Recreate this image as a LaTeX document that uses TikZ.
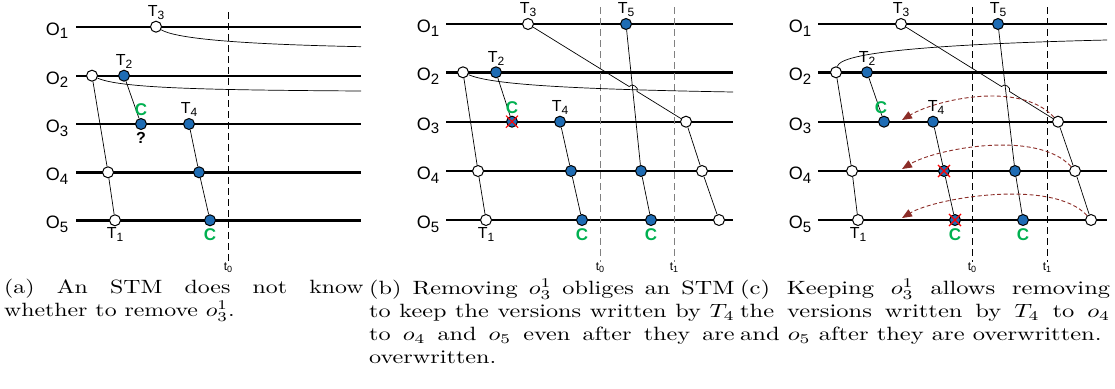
\documentclass[tikz,border=0pt]{standalone}
\usepackage{fontspec}
\usepackage{amsmath}
\setsansfont{Liberation Sans}
\usetikzlibrary{arrows.meta,positioning,calc,shapes.misc}

\definecolor{verblue}{RGB}{30,108,180}
\definecolor{commitgreen}{RGB}{0,176,80}
\definecolor{gcred}{RGB}{140,45,40}

\newcommand{\objname}[1]{{\fontsize{18}{18}\selectfont O\raisebox{-3.5pt}{\fontsize{15}{15}\selectfont #1}}}
\newcommand{\txname}[1]{{\fontsize{16}{16}\selectfont T\raisebox{-3pt}{\fontsize{12}{12}\selectfont #1}}}
\newcommand{\tname}[1]{{\fontsize{12}{12}\selectfont t\raisebox{-2pt}{\fontsize{9}{9}\selectfont #1}}}
\newcommand{\subfigtext}[2][2.42]{\scalebox{#1}[1.92]{\parbox[t]{151pt}{\rmfamily\hyphenpenalty=10000 #2}}}

\begin{document}
\begin{tikzpicture}[
    x=1pt, y=-1pt,
    objline/.style={line width=2.4pt},
    link/.style={line width=0.7pt},
    wver/.style={draw, circle, fill=white, line width=1pt, inner sep=0pt, minimum size=11pt},
    bver/.style={wver, fill=verblue},
    tline/.style={dash pattern=on 7pt off 4pt, line width=0.8pt},
    lbl/.style={font=\sffamily, inner sep=1pt},
    commit/.style={font=\sffamily\bfseries\fontsize{17}{17}\selectfont, text=commitgreen, inner sep=1pt},
    killed/.style={draw=red, cross out, line width=1.1pt, minimum size=11pt, inner sep=0pt},
    gc/.style={dash pattern=on 4pt off 2.5pt, draw=gcred, line width=0.9pt, -{Triangle[length=10pt, width=8pt]}},
    caption/.style={anchor=north west, inner sep=0pt}
]
\useasboundingbox (0,0) rectangle (1115,388);

% (a)
\foreach \i/\y in {1/26.7, 2/75.7, 3/124, 4/172.3, 5/220.3} {
    \coordinate (a\i-l) at (76,\y);
    \coordinate (a\i-r) at (361,\y);
    \draw[objline] (a\i-l) -- (a\i-r);
    \node[lbl, anchor=base] (a\i-name) at (57,\y+8.5) {\objname{\i}};
}
\coordinate (a-t0top) at (228,12);
\node[lbl] (a-t0) at (228,268) {\tname{0}};
\draw[tline] (a-t0top) -- (a-t0);

\node[wver] (a1w) at (156,26.7) {};
\node[wver] (a2w) at (92,75.7) {};
\node[bver] (a2b) at (124,75.7) {};
\node[bver] (a3b) at (141,124) {};
\node[bver] (a3c) at (189,124) {};
\node[wver] (a4w) at (108,172.3) {};
\node[bver] (a4b) at (199,172.3) {};
\node[wver] (a5w) at (115,220.3) {};
\node[bver] (a5b) at (210,220.3) {};

\draw[link] (a2w) -- (a4w) -- (a5w);
\draw[link] (a2b) -- (a3b);
\draw[link] (a3c) -- (a4b) -- (a5b);
\coordinate (a1-end) at (361,46.7);
\coordinate (a2-end) at (361,91);
\draw[link] (a1w) .. controls (175,38) and (230,44) .. (a1-end);
\draw[link] (a2w) .. controls (120,88) and (200,90) .. (a2-end);

\node[lbl, above=0pt of a1w] (a-T3) {\txname{3}};
\node[lbl, above=0pt of a2b] (a-T2) {\txname{2}};
\node[commit, above=1pt of a3b] (a-c3) {C};
\node[lbl, below=1pt of a3b, font=\sffamily\bfseries\fontsize{16}{16}\selectfont] (a-q) {?};
\node[lbl, above=0pt of a3c] (a-T4) {\txname{4}};
\node[lbl, below=0pt of a5w] (a-T1) {\txname{1}};
\node[commit, below=1pt of a5b] (a-c5) {C};

% (b)
\foreach \i/\y in {1/24, 2/72.3, 3/121.7, 4/171, 5/220} {
    \coordinate (b\i-l) at (446,\y);
    \coordinate (b\i-r) at (733,\y);
    \draw[objline] (b\i-l) -- (b\i-r);
    \node[lbl, anchor=base] (b\i-name) at (428,\y+8.5) {\objname{\i}};
}
\coordinate (b-t0top) at (600,7);
\coordinate (b-t1top) at (674,7);
\node[lbl] (b-t0) at (600,268) {\tname{0}};
\node[lbl] (b-t1) at (674,268) {\tname{1}};
\draw[tline, gray] (b-t0top) -- (b-t0);
\draw[tline, gray] (b-t1top) -- (b-t1);

\node[wver] (b1w) at (528,24) {};
\node[bver] (b1b) at (626,24) {};
\node[wver] (b2w) at (463,72.3) {};
\node[bver] (b2b) at (496,72.3) {};
\node[bver] (b3b) at (512,121.7) {};
\node[bver] (b3c) at (560,121.7) {};
\node[wver] (b3w) at (686,121.7) {};
\node[wver] (b4w) at (478,171) {};
\node[bver] (b4b) at (571,171) {};
\node[bver] (b4c) at (641,171) {};
\node[wver] (b4x) at (702,171) {};
\node[wver] (b5w) at (486,220) {};
\node[bver] (b5b) at (582,220) {};
\node[bver] (b5c) at (651,220) {};
\node[wver] (b5x) at (719,220) {};
\node[killed] (b3kill) at (b3b) {};

\draw[link] (b2w) -- (b4w) -- (b5w);
\draw[link] (b2b) -- (b3b);
\draw[link] (b3c) -- (b4b) -- (b5b);
\draw[link] (b1b) -- (b4c) -- (b5c);
\draw[link] (b3w) -- (b4x) -- (b5x);
\coordinate (b2-end) at (733,92);
\draw[link] (b2w) .. controls (490,84) and (560,89) .. (b2-end);
\draw[link] (b1w) -- ($(b1w)!0.64!(b3w)$) to[bend left=90, looseness=1.3] ($(b1w)!0.69!(b3w)$) -- (b3w);

\node[lbl, above=0pt of b1w] (b-T3) {\txname{3}};
\node[lbl, above=0pt of b1b] (b-T5) {\txname{5}};
\node[lbl, above=0pt of b2b] (b-T2) {\txname{2}};
\node[commit, above=1pt of b3b] (b-c3) {C};
\node[lbl, above=0pt of b3c] (b-T4) {\txname{4}};
\node[lbl, below=0pt of b5w] (b-T1) {\txname{1}};
\node[commit, below=1pt of b5b] (b-c5) {C};
\node[commit, below=1pt of b5c] (b-c5b) {C};

% (c)
\foreach \i/\y in {1/24, 2/72.3, 3/121.7, 4/171, 5/220} {
    \coordinate (c\i-l) at (818,\y);
    \coordinate (c\i-r) at (1107,\y);
    \draw[objline] (c\i-l) -- (c\i-r);
    \node[lbl, anchor=base] (c\i-name) at (800,\y+8.5) {\objname{\i}};
}
\coordinate (c-t0top) at (972,7);
\coordinate (c-t1top) at (1047,7);
\node[lbl] (c-t0) at (972,268) {\tname{0}};
\node[lbl] (c-t1) at (1047,268) {\tname{1}};
\draw[tline] (c-t0top) -- (c-t0);
\draw[tline] (c-t1top) -- (c-t1);

\node[wver] (c1w) at (901,24) {};
\node[bver] (c1b) at (998,24) {};
\node[wver] (c2w) at (836,72.3) {};
\node[bver] (c2b) at (867,72.3) {};
\node[bver] (c3b) at (884,121.7) {};
\node[bver] (c3c) at (933,121.7) {};
\node[wver] (c3w) at (1058,121.7) {};
\node[wver] (c4w) at (852,171) {};
\node[bver] (c4b) at (944,171) {};
\node[bver] (c4c) at (1015,171) {};
\node[wver] (c4x) at (1075,171) {};
\node[wver] (c5w) at (858,220) {};
\node[bver] (c5b) at (955,220) {};
\node[bver] (c5c) at (1023,220) {};
\node[wver] (c5x) at (1091,220) {};
\node[killed] (c4kill) at (c4b) {};
\node[killed] (c5kill) at (c5b) {};

\draw[link] (c2w) -- (c4w) -- (c5w);
\draw[link] (c2b) -- (c3b);
\draw[link] (c3c) -- (c4b) -- (c5b);
\draw[link] (c1b) -- (c4c) -- (c5c);
\draw[link] (c3w) -- (c4x) -- (c5x);
\coordinate (c2-end) at (1107,40);
\draw[link] (c2w) .. controls (840,55) and (900,45) .. (c2-end);
\draw[link] (c1w) -- ($(c1w)!0.64!(c3w)$) to[bend left=90, looseness=1.3] ($(c1w)!0.69!(c3w)$) -- (c3w);

\coordinate (c3-tip) at (902,120);
\coordinate (c4-tip) at (902,169);
\coordinate (c5-tip) at (902,218);
\draw[gc] (c3w) .. controls (1020,80) and (935,100) .. (c3-tip);
\draw[gc] (c4x) .. controls (1037,129) and (935,149) .. (c4-tip);
\draw[gc] (c5x) .. controls (1053,178) and (935,198) .. (c5-tip);

\node[lbl, above=0pt of c1w] (c-T3) {\txname{3}};
\node[lbl, above=0pt of c1b] (c-T5) {\txname{5}};
\node[lbl, above=0pt of c2b] (c-T2) {\txname{2}};
\node[commit, above=1pt of c3b, xshift=-3pt] (c-c3) {C};
\node[lbl, above=0pt of c3c, xshift=3pt] (c-T4) {\txname{4}};
\node[lbl, below=0pt of c5w] (c-T1) {\txname{1}};
\node[commit, below=1pt of c5b] (c-c5) {C};
\node[commit, below=1pt of c5c] (c-c5b) {C};

% captions
\node[caption] (cap-a) at (4,279) {\subfigtext[2.38]{(a) An STM does not know\linebreak whether to remove $o_3^1$.}};
\node[caption] (cap-b) at (369,279) {\subfigtext{(b) Removing $o_3^1$ obliges an STM\linebreak to keep the versions written by $T_4$\linebreak to $o_4$ and $o_5$ even after they are\linebreak overwritten.}};
\node[caption] (cap-c) at (740,279) {\subfigtext[2.45]{(c) Keeping $o_3^1$ allows removing\linebreak the versions written by $T_4$ to $o_4$\linebreak and $o_5$ after they are overwritten.}};
\end{tikzpicture}
\end{document}
